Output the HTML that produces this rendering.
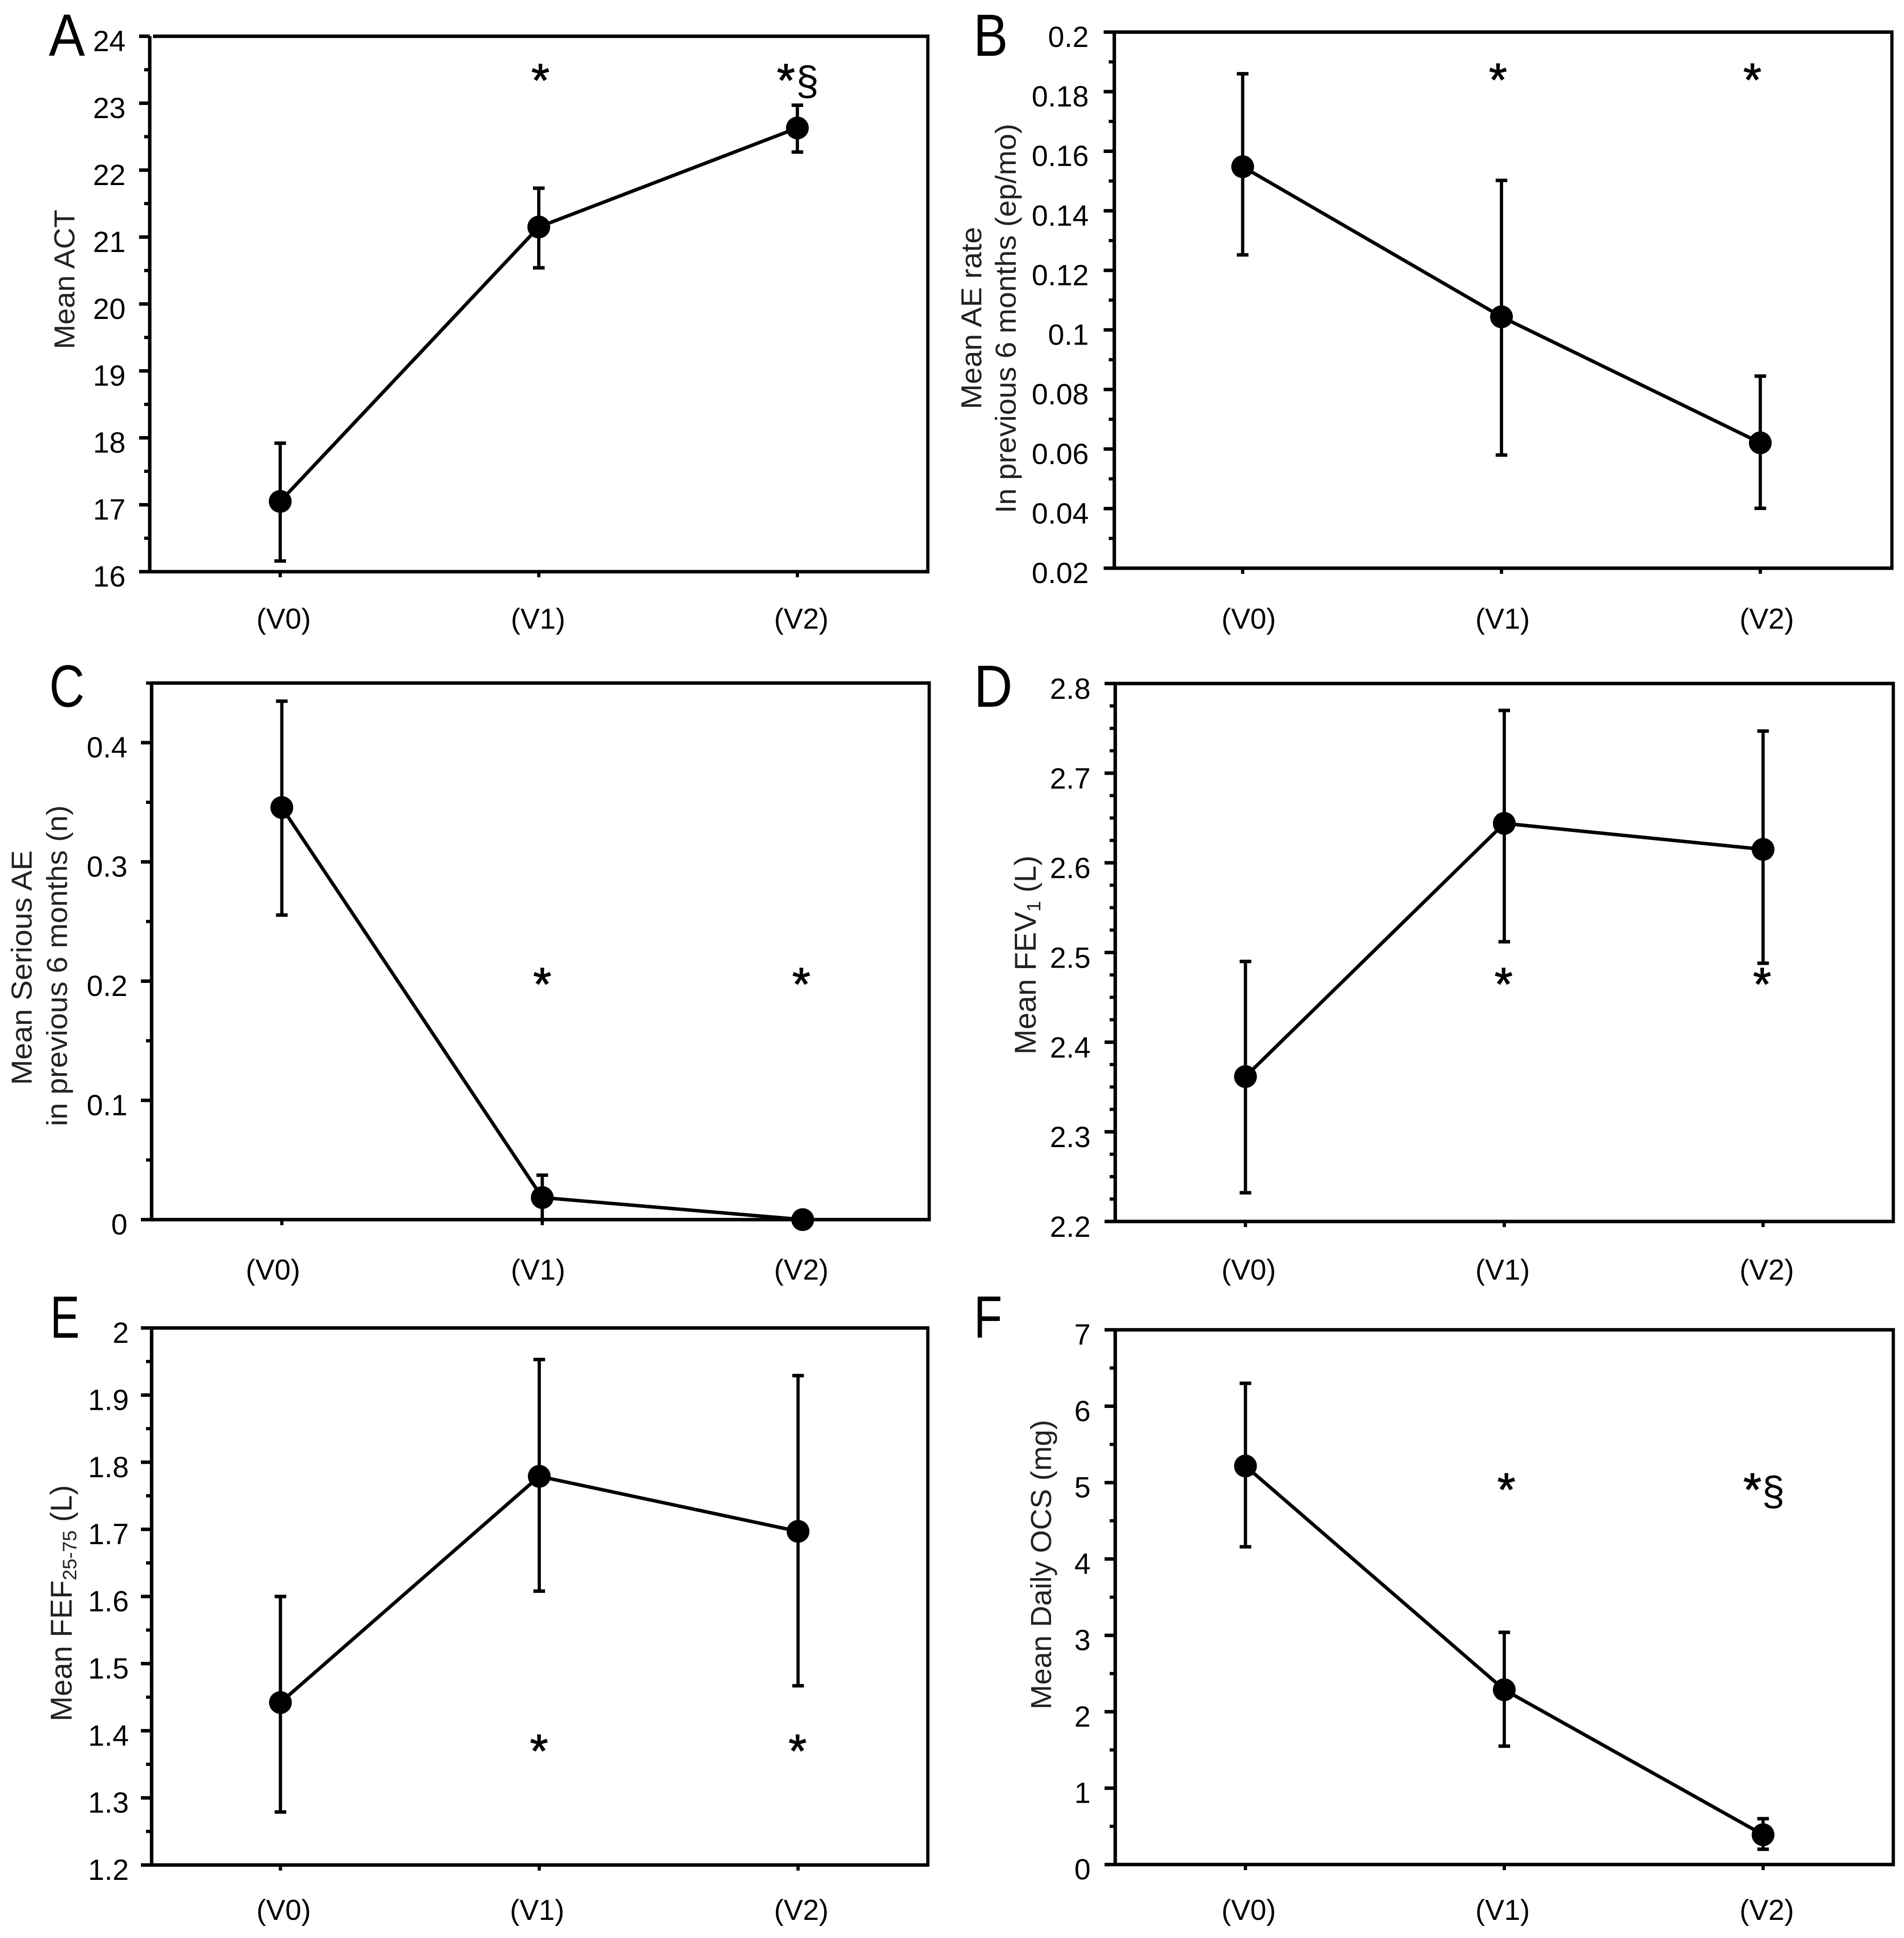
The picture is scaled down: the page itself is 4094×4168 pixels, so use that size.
<!DOCTYPE html>
<html lang="en">
<head>
<meta charset="utf-8">
<title>Six panel outcome chart</title>
<style>
html,body{margin:0;padding:0;background:#fff;}
svg{display:block;}
text{font-family:"Liberation Sans",sans-serif;fill:#000;}
.title{font-size:62px;fill:#222;}
.title-wide{font-size:65px;fill:#222;}
.letter{font-size:128px;}
.star{font-size:100px;text-anchor:middle;stroke:#000;stroke-width:1.5px;}
.sect{font-size:88px;text-anchor:middle;}
.sub{font-size:42px;}
</style>
</head>
<body>
<svg id="chart" xmlns="http://www.w3.org/2000/svg" width="4094" height="4168" viewBox="0 0 4094 4168">
  <rect x="0" y="0" width="4094" height="4168" fill="#fff"/>

  <text class="letter" transform="translate(105,120) scale(0.91,1)">A</text>
  <text class="letter" transform="translate(2093,120) scale(0.87,1)">B</text>
  <text class="letter" transform="translate(106,1520) scale(0.82,1)">C</text>
  <text class="letter" transform="translate(2094,1520) scale(0.9,1)">D</text>
  <text class="letter" transform="translate(108,2877) scale(0.74,1)">E</text>
  <text class="letter" transform="translate(2094,2877) scale(0.78,1)">F</text>

  <text class="title" text-anchor="middle" textLength="300" lengthAdjust="spacingAndGlyphs" transform="translate(160,601) rotate(-90)">Mean ACT</text>
  <text class="title" text-anchor="middle" textLength="392" lengthAdjust="spacingAndGlyphs" transform="translate(2110,684) rotate(-90)">Mean AE rate</text>
  <text class="title" text-anchor="middle" textLength="838" lengthAdjust="spacingAndGlyphs" transform="translate(2184,685) rotate(-90)">In previous 6 months (ep/mo)</text>
  <text class="title" text-anchor="middle" textLength="505" lengthAdjust="spacingAndGlyphs" transform="translate(68,2081) rotate(-90)">Mean Serious AE</text>
  <text class="title" text-anchor="middle" textLength="690" lengthAdjust="spacingAndGlyphs" transform="translate(144,2077) rotate(-90)">in previous 6 months (n)</text>
  <text class="title-wide" text-anchor="middle" transform="translate(2227,2054) rotate(-90)">Mean FEV<tspan class="sub" dy="10">1</tspan><tspan dy="-10"> (L)</tspan></text>
  <text class="title-wide" text-anchor="middle" transform="translate(154,3448) rotate(-90)">Mean FEF<tspan class="sub" dy="10">25-75</tspan><tspan dy="-10"> (L)</tspan></text>
  <text class="title" text-anchor="middle" textLength="623" lengthAdjust="spacingAndGlyphs" transform="translate(2260,3365) rotate(-90)">Mean Daily OCS (mg)</text>

  <g id="panels"></g>

  <text class="star" x="1162" y="207">*</text>
  <text class="star" x="1690" y="207">*</text>
  <text class="sect" x="1736" y="204">§</text>
  <text class="star" x="3221" y="206">*</text>
  <text class="star" x="3768" y="206">*</text>
  <text class="star" x="1166" y="2151">*</text>
  <text class="star" x="1723" y="2151">*</text>
  <text class="star" x="3233" y="2151">*</text>
  <text class="star" x="3789" y="2151">*</text>
  <text class="star" x="1159" y="3800">*</text>
  <text class="star" x="1715" y="3800">*</text>
  <text class="star" x="3239" y="3238">*</text>
  <text class="star" x="3768" y="3238">*</text>
  <text class="sect" x="3813" y="3237">§</text>
</svg>
<script>
// ---------- data ----------
const categories = ["(V0)", "(V1)", "(V2)"];

const meansA = [17.05, 21.15, 22.63];
const upperA = [17.92, 21.73, 22.97];
const lowerA = [16.16, 20.54, 22.27];
const ticksA = ["16", "17", "18", "19", "20", "21", "22", "23", "24"];

const meansB = [0.1548, 0.1044, 0.0621];
const upperB = [0.186, 0.1502, 0.0845];
const lowerB = [0.1252, 0.058, 0.0401];
const ticksB = ["0.02", "0.04", "0.06", "0.08", "0.1", "0.12", "0.14", "0.16", "0.18", "0.2"];

const meansC = [0.3456, 0.0185, 0];
const upperC = [0.4348, 0.0373, 0];
const lowerC = [0.2554, 0, 0];
const ticksC = ["0", "0.1", "0.2", "0.3", "0.4"];

const meansD = [2.3616, 2.644, 2.615];
const upperD = [2.49, 2.77, 2.747];
const lowerD = [2.232, 2.512, 2.488];
const ticksD = ["2.2", "2.3", "2.4", "2.5", "2.6", "2.7", "2.8"];

const meansE = [1.442, 1.779, 1.697];
const upperE = [1.6, 1.953, 1.929];
const lowerE = [1.279, 1.608, 1.467];
const ticksE = ["1.2", "1.3", "1.4", "1.5", "1.6", "1.7", "1.8", "1.9", "2"];

const meansF = [5.217, 2.288, 0.39];
const upperF = [6.3, 3.04, 0.6];
const lowerF = [4.16, 1.55, 0.2];
const ticksF = ["0", "1", "2", "3", "4", "5", "6", "7"];

// ---------- layout (pixels) ----------
const NS = "http://www.w3.org/2000/svg";
const root = document.getElementById("panels");
const panelList = [
  {id:"a", means:meansA, upper:upperA, lower:lowerA, ticks:ticksA, yMin:16, yMax:24, minorStep:0.5, topGap:7,
   left:322, right:1995, top:78, bottom:1229.5, x0:602.5, dx:556, labelRight:270, labelDy:32, catX:[610,1157,1723], catY:1352},
  {id:"b", means:meansB, upper:upperB, lower:lowerB, ticks:ticksB, yMin:0.02, yMax:0.2, minorStep:0.01, topGap:0,
   left:2396, right:4068, top:69, bottom:1222, x0:2672, dx:556.5, labelRight:2341, labelDy:32, catX:[2685,3231,3799], catY:1352},
  {id:"c", means:meansC, upper:upperC, lower:lowerC, ticks:ticksC, yMin:0, yMax:0.45, minorStep:0.05, topGap:0,
   left:326, right:1998, top:1469, bottom:2623, x0:606, dx:560, labelRight:274, labelDy:32, catX:[587,1157,1723], catY:2752},
  {id:"d", means:meansD, upper:upperD, lower:lowerD, ticks:ticksD, yMin:2.2, yMax:2.8, minorStep:0.025, topGap:0,
   left:2398, right:4071, top:1470, bottom:2627, x0:2678, dx:556.5, labelRight:2345, labelDy:33, catX:[2685,3231,3799], catY:2752},
  {id:"e", means:meansE, upper:upperE, lower:lowerE, ticks:ticksE, yMin:1.2, yMax:2, minorStep:0.05, topGap:0,
   left:326, right:1995, top:2856, bottom:4011, x0:603, dx:556.5, labelRight:277, labelDy:32, catX:[610,1155,1723], catY:4129},
  {id:"f", means:meansF, upper:upperF, lower:lowerF, ticks:ticksF, yMin:0, yMax:7, minorStep:0.5, topGap:0,
   left:2398, right:4071, top:2860, bottom:4010, x0:2678, dx:556.5, labelRight:2345, labelDy:32, catX:[2685,3231,3799], catY:4129}
];

function seg(parent, x1, y1, x2, y2, w) {
  const el = document.createElementNS(NS, "line");
  el.setAttribute("x1", x1);
  el.setAttribute("y1", y1);
  el.setAttribute("x2", x2);
  el.setAttribute("y2", y2);
  el.setAttribute("stroke", "#000");
  el.setAttribute("stroke-width", w);
  parent.appendChild(el);
  return el;
}

function drawPanel(p) {
  const g = document.createElementNS(NS, "g");
  
  
  root.appendChild(g);

  const yScale = v => p.bottom - (v - p.yMin) / (p.yMax - p.yMin) * (p.bottom - p.top);
  const xScale = i => p.x0 + i * p.dx;

  // frame
  const leftLine = seg(g, p.left, p.top, p.left, p.bottom + 3, 7.5);
  
  
  const bottomLine = seg(g, p.left, p.bottom, p.right + 3.5, p.bottom, 7.5);
  
  
  const topLine = seg(g, p.left + p.topGap, p.top, p.right + 3.5, p.top, 7.5);
  
  
  const rightLine = seg(g, p.right, p.top, p.right, p.bottom, 7);
  
  

  // minor y ticks
  const nMinor = Math.round((p.yMax - p.yMin) / p.minorStep);
  for (let k = 0; k <= nMinor; k++) {
    const t = seg(g, p.left - 12, yScale(p.yMin + k * p.minorStep), p.left, yScale(p.yMin + k * p.minorStep), 7);
    
    
  }

  // major y ticks and labels
  p.ticks.forEach(label => {
    const v = parseFloat(label);
    const t = seg(g, p.left - 23, yScale(v), p.left, yScale(v), 7.5);
    
    
    const txt = document.createElementNS(NS, "text");
    
    
    txt.setAttribute("x", p.labelRight);
    txt.setAttribute("y", yScale(v) + p.labelDy);
    txt.setAttribute("text-anchor", "end");
    txt.setAttribute("font-size", "63");
    txt.textContent = label;
    g.appendChild(txt);
  });

  // x ticks and category labels
  categories.forEach((c, i) => {
    const t = seg(g, xScale(i), p.bottom, xScale(i), p.bottom + 12, 7);
    
    
    const txt = document.createElementNS(NS, "text");
    
    
    txt.setAttribute("x", p.catX[i]);
    txt.setAttribute("y", p.catY);
    txt.setAttribute("text-anchor", "middle");
    txt.setAttribute("font-size", "62");
    txt.textContent = c;
    g.appendChild(txt);
  });

  // error bars
  p.means.forEach((m, i) => {
    if (p.upper[i] === p.lower[i]) return;
    const stem = seg(g, xScale(i), yScale(p.upper[i]), xScale(i), yScale(p.lower[i]), 7);
    
    
    const capHi = seg(g, xScale(i) - 12.5, yScale(p.upper[i]), xScale(i) + 12.5, yScale(p.upper[i]), 7.5);
    
    
    if (p.lower[i] > p.yMin) {
      const capLo = seg(g, xScale(i) - 12.5, yScale(p.lower[i]), xScale(i) + 12.5, yScale(p.lower[i]), 7.5);
      
      
    }
  });

  // series line
  const line = document.createElementNS(NS, "polyline");
  
  
  line.setAttribute("points", p.means.map((m, i) => xScale(i) + "," + yScale(m)).join(" "));
  line.setAttribute("fill", "none");
  line.setAttribute("stroke", "#000");
  line.setAttribute("stroke-width", "7.5");
  g.appendChild(line);

  // points
  p.means.forEach((m, i) => {
    const dot = document.createElementNS(NS, "circle");
    
    
    dot.setAttribute("cx", xScale(i));
    dot.setAttribute("cy", yScale(m));
    dot.setAttribute("r", "24.5");
    dot.setAttribute("fill", "#000");
    g.appendChild(dot);
  });
}

panelList.forEach(drawPanel);
</script>
</body>
</html>
